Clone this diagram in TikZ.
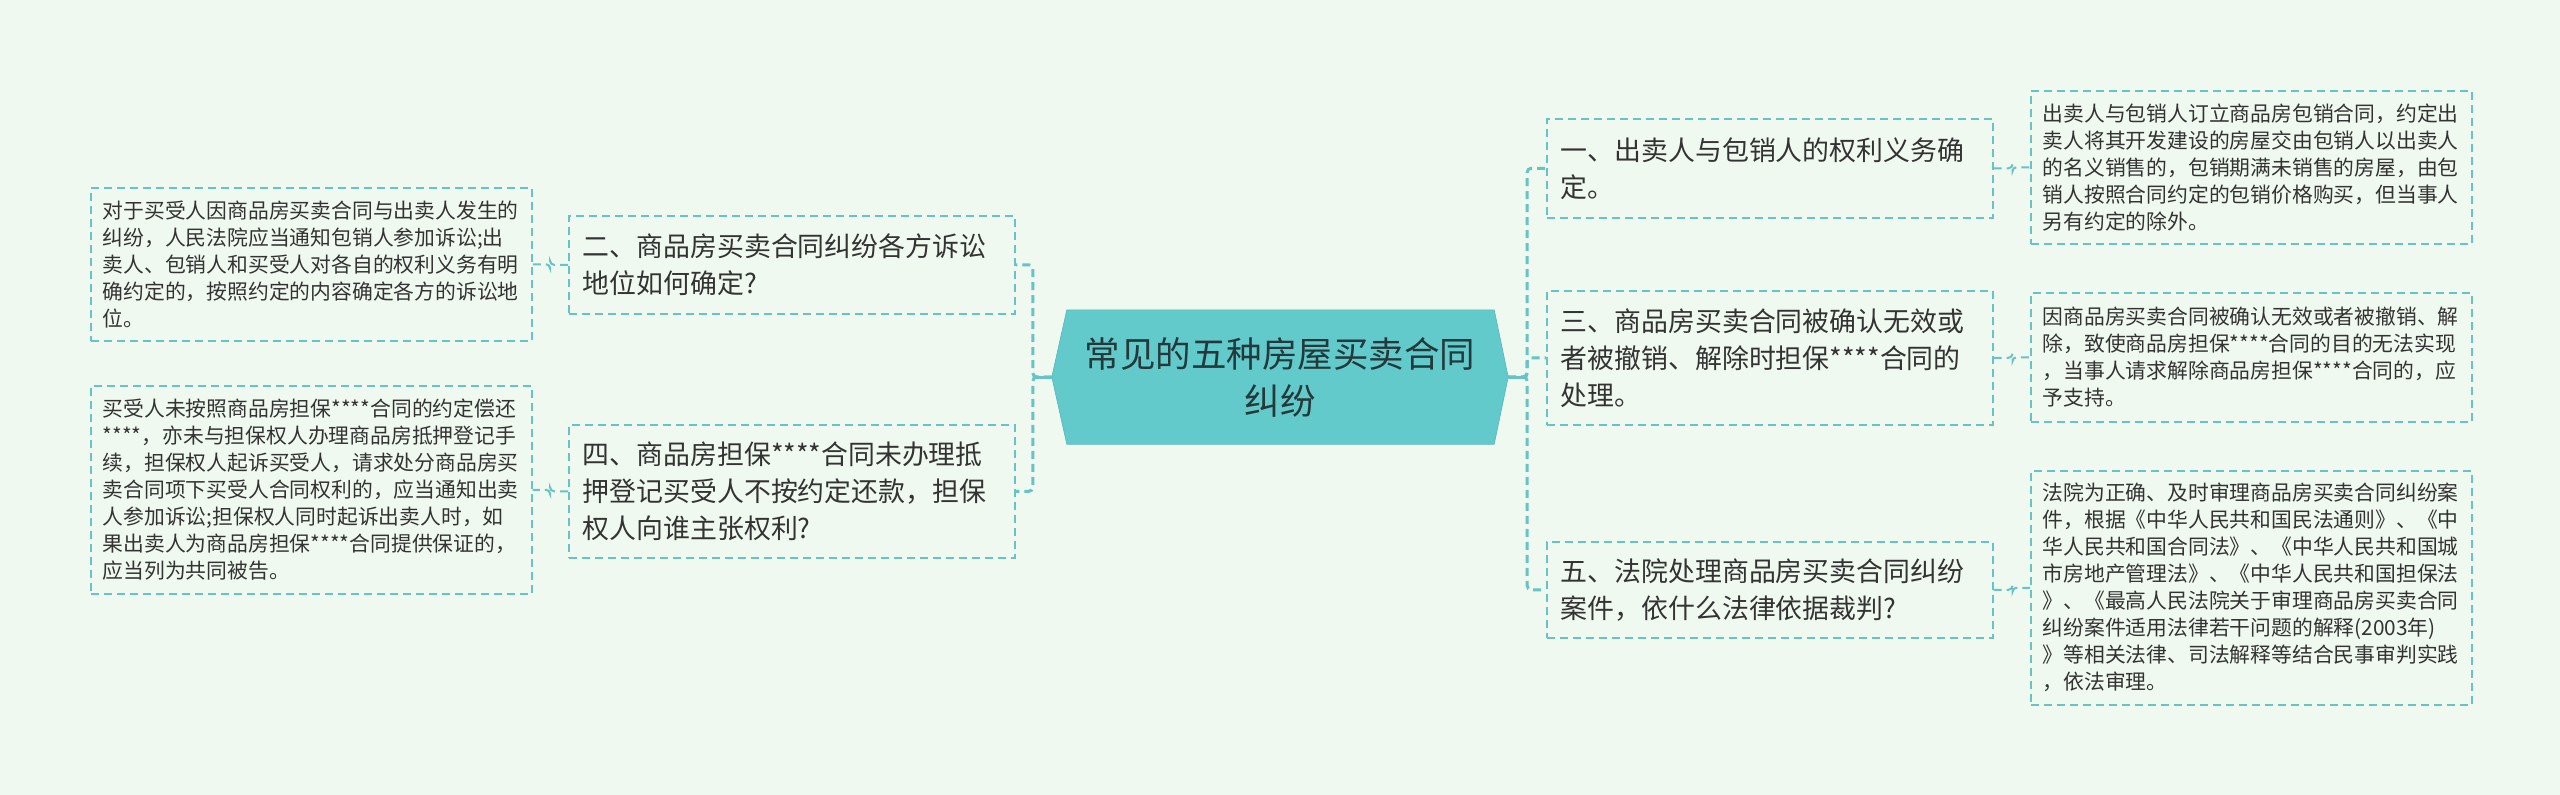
\documentclass[tikz,border=0pt]{standalone}
\usepackage{fontspec}
\newfontfamily\cjk{Noto Sans CJK SC}
\usetikzlibrary{backgrounds}
\definecolor{bgcol}{HTML}{F0F9F0}
\definecolor{tealfill}{HTML}{63CACC}
\definecolor{dashcol}{HTML}{66C3C6}
\definecolor{txt}{HTML}{333333}
\definecolor{ctxt}{HTML}{24393A}
\tikzset{
  leafbox/.style={draw=dashcol, line width=1.5pt, dash pattern=on 8pt off 5pt,
    anchor=north west, inner xsep=12pt, inner ysep=2pt, text width=417pt, align=left,
    minimum width=441pt, text=txt, font=\cjk\fontsize{20.8}{27}\selectfont},
  midbox/.style={draw=dashcol, line width=1.5pt, dash pattern=on 8pt off 5pt,
    anchor=north west, inner xsep=14pt, inner ysep=2pt, text width=418pt, align=left,
    minimum width=446pt, text=txt, font=\cjk\fontsize{26.9}{37}\selectfont},
  branch/.style={draw=dashcol, line width=3pt, dash pattern=on 8pt off 5pt, rounded corners=4pt},
  twig/.style={draw=dashcol, line width=2pt, dash pattern=on 8pt off 5pt, rounded corners=4pt},
  trunk/.style={draw=dashcol, line width=3pt}
}
\begin{document}
\begin{tikzpicture}[x=1pt,y=-1pt]
\begin{scope}[on background layer]
\fill[bgcol] (0,0) rectangle (2560,795);
\end{scope}
\useasboundingbox (0,0) rectangle (2560,795);

% central node
\node[minimum width=456pt, minimum height=134pt, inner sep=0pt, align=center,
  text=ctxt, font=\cjk\fontsize{35.5}{47}\selectfont] (c) at (1280,377)
  {常见的五种房屋买卖合同\\纠纷};
\begin{scope}[on background layer]
\filldraw[fill=tealfill, draw=tealfill!90!black, line width=0.6pt]
  ([xshift=15pt]c.north west) -- ([xshift=-14pt]c.north east) -- (c.east)
  -- ([xshift=-14pt]c.south east) -- ([xshift=15pt]c.south west) -- (c.west) -- cycle;
\end{scope}

% right main nodes
\node[midbox, minimum height=99pt] (n1) at (1546,118)
  {一、出卖人与包销人的权利义务确\\定。};
\node[midbox, minimum height=134pt] (n3) at (1546,290)
  {三、商品房买卖合同被确认无效或\\者被撤销、解除时担保****合同的\\处理。};
\node[midbox, minimum height=96pt] (n5) at (1546,541)
  {五、法院处理商品房买卖合同纠纷\\案件，依什么法律依据裁判?};

% left main nodes
\node[midbox, minimum height=98pt] (n2) at (568,215)
  {二、商品房买卖合同纠纷各方诉讼\\地位如何确定?};
\node[midbox, minimum height=133pt] (n4) at (568,424)
  {四、商品房担保****合同未办理抵\\押登记买受人不按约定还款，担保\\权人向谁主张权利?};

% right leaves
\node[leafbox, minimum height=153pt] (l1) at (2030,90)
  {出卖人与包销人订立商品房包销合同，约定出\\卖人将其开发建设的房屋交由包销人以出卖人\\的名义销售的，包销期满未销售的房屋，由包\\销人按照合同约定的包销价格购买，但当事人\\另有约定的除外。};
\node[leafbox, minimum height=129pt] (l3) at (2030,292)
  {因商品房买卖合同被确认无效或者被撤销、解\\除，致使商品房担保****合同的目的无法实现\\，当事人请求解除商品房担保****合同的，应\\予支持。};
\node[leafbox, minimum height=234pt] (l5) at (2030,470)
  {法院为正确、及时审理商品房买卖合同纠纷案\\件，根据《中华人民共和国民法通则》、《中\\华人民共和国合同法》、《中华人民共和国城\\市房地产管理法》、《中华人民共和国担保法\\》、《最高人民法院关于审理商品房买卖合同\\纠纷案件适用法律若干问题的解释(2003年)\\》等相关法律、司法解释等结合民事审判实践\\，依法审理。};

% left leaves
\node[leafbox, minimum height=153pt] (l2) at (90,187)
  {对于买受人因商品房买卖合同与出卖人发生的\\纠纷，人民法院应当通知包销人参加诉讼;出\\卖人、包销人和买受人对各自的权利义务有明\\确约定的，按照约定的内容确定各方的诉讼地\\位。};
\node[leafbox, minimum height=208pt] (l4) at (90,385)
  {买受人未按照商品房担保****合同的约定偿还\\{}****，亦未与担保权人办理商品房抵押登记手\\续，担保权人起诉买受人，请求处分商品房买\\卖合同项下买受人合同权利的，应当通知出卖\\人参加诉讼;担保权人同时起诉出卖人时，如\\果出卖人为商品房担保****合同提供保证的，\\应当列为共同被告。};

% connectors: central to main nodes
\draw[branch] (c.east) -- ++(19,0) |- (n1.west);
\draw[branch] (c.east) -- ++(19,0) |- (n3.west);
\draw[branch] (c.east) -- ++(19,0) |- (n5.west);
\draw[branch] (c.west) -- ++(-19,0) |- (n2.east);
\draw[branch] (c.west) -- ++(-19,0) |- (n4.east);
\draw[trunk] (c.east) -- ++(19,0);
\draw[trunk] (c.west) -- ++(-19,0);

% connectors: main nodes to leaves
\draw[twig] (n1.east) -- ++(19,0) |- (l1.west);
\draw[twig] (n3.east) -- ++(19,0) |- (l3.west);
\draw[twig] (n5.east) -- ++(19,0) |- (l5.west);
\draw[twig] (n2.west) -- ++(-18,0) |- (l2.east);
\draw[twig] (n4.west) -- ++(-18,0) |- (l4.east);
\end{tikzpicture}
\end{document}
